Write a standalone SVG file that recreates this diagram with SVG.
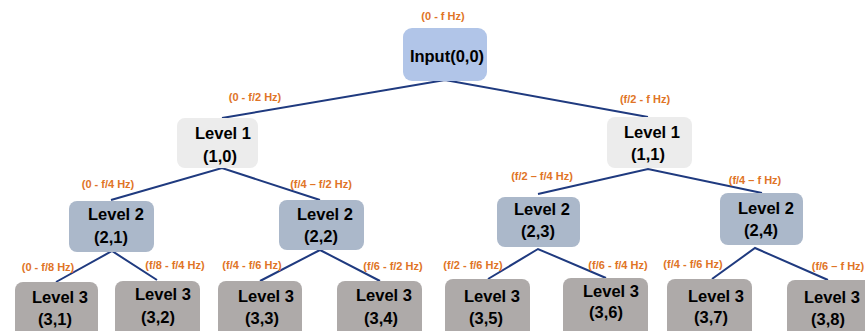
<svg xmlns="http://www.w3.org/2000/svg" width="865" height="331" viewBox="0 0 865 331">
<style>
.n{font-family:"Liberation Sans",Arial,sans-serif;font-weight:bold;font-size:16.5px;fill:#000;text-anchor:middle}
.l{font-family:"Liberation Sans",Arial,sans-serif;font-weight:bold;font-size:11px;fill:#e07426;text-anchor:middle}
.b0{fill:#b1c5e8}
.b1{fill:#ececec}
.b2{fill:#abb8ca}
.b3{fill:#aeaaa9}
.e{fill:none;stroke:#1f3a7f;stroke-width:2}
</style>
<rect width="865" height="331" fill="#fff"/>
<g id="connectors">
<polyline class="e" points="222,118 445,80 648,117"/>
<polyline class="e" points="111,200 222,168 320,200"/>
<polyline class="e" points="538,194 648,169 762,193"/>
<polyline class="e" points="56,282 112,251 157,280"/>
<polyline class="e" points="260,281 320,250 380,281"/>
<polyline class="e" points="488,279 538,249 606,278"/>
<polyline class="e" points="712,279 755,248 828,280"/>
</g>
<g id="labels">
<text class="l" x="443" y="20">(0 - f Hz)</text>
<text class="l" x="255" y="101">(0 - f/2 Hz)</text>
<text class="l" x="645" y="103">(f/2 - f Hz)</text>
<text class="l" x="108" y="188">(0 - f/4 Hz)</text>
<text class="l" x="321" y="188">(f/4 – f/2 Hz)</text>
<text class="l" x="542" y="180">(f/2 – f/4 Hz)</text>
<text class="l" x="755" y="184">(f/4 – f Hz)</text>
<text class="l" x="48" y="271">(0 - f/8 Hz)</text>
<text class="l" x="175" y="269">(f/8 - f/4 Hz)</text>
<text class="l" x="252" y="269">(f/4 - f/6 Hz)</text>
<text class="l" x="393" y="270">(f/6 - f/2 Hz)</text>
<text class="l" x="473" y="269">(f/2 - f/6 Hz)</text>
<text class="l" x="618" y="269">(f/6 - f/4 Hz)</text>
<text class="l" x="693" y="268">(f/4 - f/6 Hz)</text>
<text class="l" x="838" y="270">(f/6 – f Hz)</text>
</g>
<g id="n00"><rect class="b0" x="403" y="28" width="84" height="53" rx="9"/><text class="n" x="447" y="62">Input(0,0)</text></g>
<g id="n10"><rect class="b1" x="177" y="118" width="81" height="50" rx="8"/><text class="n" x="223" y="139">Level 1</text><text class="n" x="220" y="162">(1,0)</text></g>
<g id="n11"><rect class="b1" x="607" y="117" width="85" height="51" rx="8"/><text class="n" x="652" y="138">Level 1</text><text class="n" x="648" y="160">(1,1)</text></g>
<g id="n21"><rect class="b2" x="69" y="201" width="85" height="51" rx="8"/><text class="n" x="116" y="220">Level 2</text><text class="n" x="111" y="243">(2,1)</text></g>
<g id="n22"><rect class="b2" x="279" y="200" width="85" height="50" rx="8"/><text class="n" x="325" y="220">Level 2</text><text class="n" x="321" y="242">(2,2)</text></g>
<g id="n23"><rect class="b2" x="497" y="197" width="83" height="50" rx="8"/><text class="n" x="542" y="215">Level 2</text><text class="n" x="538" y="237">(2,3)</text></g>
<g id="n24"><rect class="b2" x="720" y="193" width="83" height="52" rx="8"/><text class="n" x="766" y="214">Level 2</text><text class="n" x="761" y="236">(2,4)</text></g>
<g id="n31"><rect class="b3" x="15" y="282" width="83" height="60" rx="8"/><text class="n" x="60" y="303">Level 3</text><text class="n" x="55" y="325">(3,1)</text></g>
<g id="n32"><rect class="b3" x="115" y="281" width="85" height="60" rx="8"/><text class="n" x="163" y="300">Level 3</text><text class="n" x="158" y="323">(3,2)</text></g>
<g id="n33"><rect class="b3" x="218" y="281" width="84" height="60" rx="8"/><text class="n" x="266" y="302">Level 3</text><text class="n" x="262" y="324">(3,3)</text></g>
<g id="n34"><rect class="b3" x="337" y="281" width="85" height="60" rx="8"/><text class="n" x="384" y="301">Level 3</text><text class="n" x="381" y="324">(3,4)</text></g>
<g id="n35"><rect class="b3" x="445" y="279" width="85" height="60" rx="8"/><text class="n" x="492" y="302">Level 3</text><text class="n" x="486" y="324">(3,5)</text></g>
<g id="n36"><rect class="b3" x="563" y="278" width="85" height="60" rx="8"/><text class="n" x="611" y="297">Level 3</text><text class="n" x="606" y="318">(3,6)</text></g>
<g id="n37"><rect class="b3" x="667" y="279" width="85" height="60" rx="8"/><text class="n" x="716" y="302">Level 3</text><text class="n" x="711" y="323">(3,7)</text></g>
<g id="n38"><rect class="b3" x="787" y="280" width="85" height="60" rx="8"/><text class="n" x="832" y="303">Level 3</text><text class="n" x="828" y="325">(3,8)</text></g>
</svg>
